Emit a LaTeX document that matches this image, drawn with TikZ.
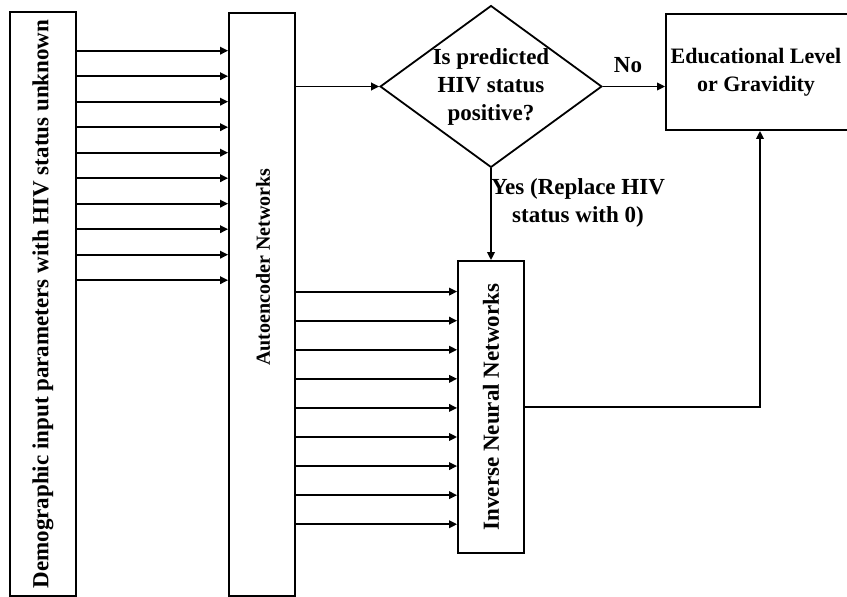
\documentclass[tikz,border=0pt]{standalone}
\usepackage{fontspec}
\setmainfont{Liberation Serif}
\usetikzlibrary{arrows.meta,shapes.geometric}
\begin{document}
\begin{tikzpicture}[x=1pt,y=-1pt,
  every node/.style={font=\bfseries\fontsize{23}{28}\selectfont},
  box/.style={draw,line width=1.8pt,inner sep=0pt},
  arr/.style={line width=1.8pt,-{Triangle[length=8pt,width=7.5pt]}},
  plain/.style={line width=1.8pt}]
\useasboundingbox (0,0) rectangle (847,597);
\clip (0,0) rectangle (847,597);
\node[box,minimum width=66pt,minimum height=584pt] (demo) at (43,304)
  {\rotatebox{90}{Demographic input parameters with HIV status unknown}};
\node[box,minimum width=66pt,minimum height=583pt] (ae) at (262,304.5) {};
\node[font=\bfseries\fontsize{20}{24}\selectfont] (aetext) at (263,267) {\rotatebox{90}{Autoencoder Networks}};
\node[box,diamond,aspect=1.37,minimum width=218pt,minimum height=159pt,align=center] (dec) at (491,86.5)
  {Is predicted\\HIV status\\positive?};
\node[box,minimum width=188pt,minimum height=116pt] (ed) at (760,72) {};
\node[align=center,font=\bfseries\fontsize{22}{28}\selectfont] (edtext) at (756,72)
  {Educational Level\\or Gravidity};
\node[box,minimum width=66pt,minimum height=292pt] (inv) at (491,407)
  {\rotatebox{90}{Inverse Neural Networks}};
\foreach \i in {0,...,9} {
  \coordinate (la\i) at (0,{50.7+25.5*\i});
  \draw[arr] (demo.east |- la\i) -- (ae.west |- la\i);
}
\foreach \i in {0,...,8} {
  \coordinate (lb\i) at (0,{291.6+29.08*\i});
  \draw[arr] (ae.east |- lb\i) -- (inv.west |- lb\i);
}
\draw[arr] (ae.east |- dec.west) -- (dec.west);
\draw[arr] (dec.east) -- (dec.east -| ed.west);
\draw[arr] (dec.south) -- (inv.north);
\draw[arr] (inv.east) -| (ed.south);
\node (no) at (628,65) {No};
\node[align=center] (yes) at (578,203) {Yes (Replace HIV\\status with 0)};
\end{tikzpicture}
\end{document}
